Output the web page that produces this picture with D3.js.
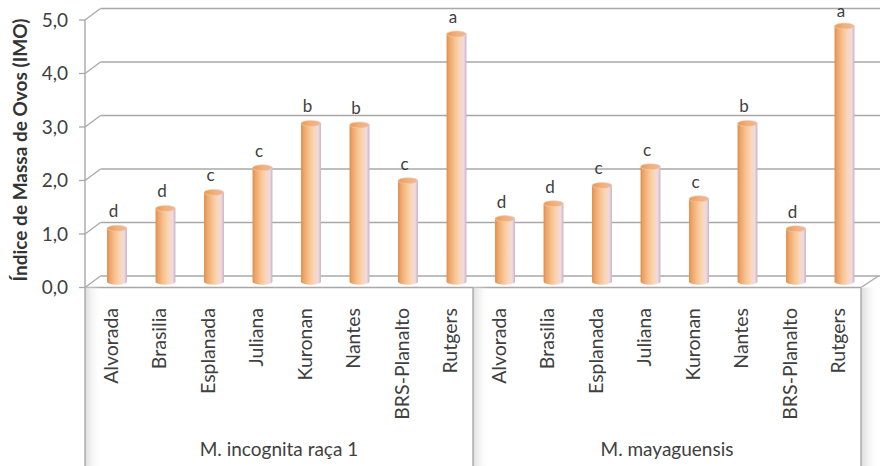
<!DOCTYPE html>
<html>
<head>
<meta charset="utf-8">
<script src="https://cdn.jsdelivr.net/npm/d3@7"></script>
<style>
  html, body { margin: 0; padding: 0; background: #ffffff; }
  svg { display: block; }
  text { font-family: Lato, "Open Sans", sans-serif; fill: #404040; }
</style>
</head>
<body>
<svg id="chart" width="880" height="466"></svg>
<script>
// Cultivars tested against each nematode species
const cultivars = ["Alvorada", "Brasilia", "Esplanada", "Juliana", "Kuronan", "Nantes", "BRS-Planalto", "Rutgers"];
const groups = ["M. incognita raça 1", "M. mayaguensis"];

// Egg mass index (IMO) per cultivar
const imoIncognita = [1.00, 1.37, 1.67, 2.13, 2.96, 2.93, 1.89, 4.63];
const imoMayaguensis = [1.18, 1.46, 1.80, 2.15, 1.55, 2.96, 0.99, 4.78];

// Statistical grouping letters
const letrasIncognita = ["d", "d", "c", "c", "b", "b", "c", "a"];
const letrasMayaguensis = ["d", "d", "c", "c", "c", "b", "d", "a"];

// Value axis ticks
const yTicks = [0, 1, 2, 3, 4, 5];
const yTitle = "Índice de Massa de Ovos (IMO)";

const rows = [];
[imoIncognita, imoMayaguensis].forEach((vals, g) => {
  const letters = g === 0 ? letrasIncognita : letrasMayaguensis;
  vals.forEach((v, i) => rows.push({ key: g + "|" + cultivars[i], group: g, name: cultivars[i], value: v, letter: letters[i] }));
});

const svg = d3.select("#chart");
const defs = svg.append("defs");

// Front plane of the 3D box and depth offset to the back wall
const front = { left: 85, right: 861, top: 20, bottom: 287.5 };
const depth = { dx: 15.5, dy: -11.5 };
const bottomEdge = 466;

const x = d3.scaleBand().domain(rows.map(d => d.key)).range([front.left, front.right]).paddingInner(0).paddingOuter(0);
const y = d3.scaleLinear().domain([0, 5]).range([front.bottom, front.top]);
const xGroup = d3.scaleBand().domain(groups).range([front.left, front.right]);

const gridColor = "#a8a8a8";

// Back wall gridlines
svg.append("g").selectAll("line").data(yTicks).join("line")
  .attr("x1", front.left + depth.dx).attr("x2", 880)
  .attr("y1", d => y(d) + depth.dy).attr("y2", d => y(d) + depth.dy)
  .attr("stroke", gridColor).attr("stroke-width", 1.4);

// Side wall gridlines (from the value axis back to the wall)
svg.append("g").selectAll("line").data(yTicks).join("line")
  .attr("x1", front.left).attr("y1", d => y(d))
  .attr("x2", front.left + depth.dx).attr("y2", d => y(d) + depth.dy)
  .attr("stroke", gridColor).attr("stroke-width", 1.3);

// Floor front edge and right side
svg.append("line").attr("x1", front.left).attr("x2", front.right)
  .attr("y1", y(0)).attr("y2", y(0)).attr("stroke", gridColor).attr("stroke-width", 1.4);
svg.append("line").attr("x1", front.right).attr("y1", y(0))
  .attr("x2", front.right + depth.dx + 2).attr("y2", y(0) + depth.dy)
  .attr("stroke", gridColor).attr("stroke-width", 1.3);

// Category box: soft shading at the left of each panel
const shade = defs.append("linearGradient").attr("id", "panelShade").attr("x1", 0).attr("x2", 1).attr("y1", 0).attr("y2", 0);
shade.append("stop").attr("offset", 0).attr("stop-color", "#dcdcdc");
shade.append("stop").attr("offset", 1).attr("stop-color", "#ffffff").attr("stop-opacity", 0);
const panelEdges = [front.left, xGroup(groups[1]), front.right];
svg.append("g").selectAll("rect").data(panelEdges).join("rect")
  .attr("x", d => d).attr("y", y(0)).attr("width", (d, i) => i === 2 ? 880 - d : 16)
  .attr("height", bottomEdge - y(0)).attr("fill", "url(#panelShade)");

// Category box dividers and value axis line
svg.append("g").selectAll("line").data(panelEdges).join("line")
  .attr("x1", d => d).attr("x2", d => d)
  .attr("y1", (d, i) => i === 0 ? y(5) : y(0)).attr("y2", bottomEdge)
  .attr("stroke", gridColor).attr("stroke-width", 1.4);

// Tick marks and labels of the value axis
svg.append("g").selectAll("line").data(yTicks).join("line")
  .attr("x1", front.left - 6).attr("x2", front.left)
  .attr("y1", d => y(d)).attr("y2", d => y(d))
  .attr("stroke", gridColor).attr("stroke-width", 1.3);
svg.append("g").selectAll("text").data(yTicks).join("text")
  .attr("x", 68).attr("y", d => y(d)).attr("dy", "0.35em")
  .attr("text-anchor", "end").style("font-size", "19px")
  .text(d => d3.format(".1f")(d).replace(".", ","));

// Cylinder shading
const body = defs.append("linearGradient").attr("id", "cylBody").attr("x1", 0).attr("x2", 1).attr("y1", 0).attr("y2", 0);
[[0, "#e08c48"], [0.12, "#eda264"], [0.42, "#f7c495"], [0.66, "#fbd6b4"], [0.86, "#efdae2"], [1, "#c9b2c6"]]
  .forEach(([o, c]) => body.append("stop").attr("offset", o).attr("stop-color", c));
const cap = defs.append("linearGradient").attr("id", "cylTop").attr("x1", 0).attr("x2", 1).attr("y1", 0).attr("y2", 0);
[[0, "#e59a5a"], [0.5, "#f2b07a"], [1, "#e6b9a8"]]
  .forEach(([o, c]) => cap.append("stop").attr("offset", o).attr("stop-color", c));

const rx = x.bandwidth() * 0.205;
const ry = 3;
const cx = d => x(d.key) + x.bandwidth() / 2 + depth.dx / 2;
const yTop = d => y(d.value) + depth.dy / 2;
const yBase = y(0) + depth.dy / 2;

const bars = svg.append("g").selectAll("g").data(rows).join("g");
bars.append("path")
  .attr("d", d => `M${cx(d) - rx},${yTop(d)} L${cx(d) - rx},${yBase} A${rx},${ry} 0 0 0 ${cx(d) + rx},${yBase} L${cx(d) + rx},${yTop(d)} Z`)
  .attr("fill", "url(#cylBody)");
bars.append("ellipse")
  .attr("cx", cx).attr("cy", yTop).attr("rx", rx).attr("ry", ry)
  .attr("fill", "url(#cylTop)").attr("stroke", "#f6cfae").attr("stroke-width", 0.6);

// Grouping letters above the bars (kept inside the top edge)
svg.append("g").selectAll("text").data(rows).join("text")
  .attr("x", d => cx(d) - 3.5).attr("y", d => Math.max(yTop(d) - ry - 8, 17))
  .attr("text-anchor", "middle").style("font-size", "17px")
  .text(d => d.letter);

// Cultivar names, rotated
svg.append("g").selectAll("text").data(rows).join("text")
  .attr("transform", d => `translate(${x(d.key) + x.bandwidth() / 2 + 1.5},308) rotate(-90)`)
  .attr("dy", "0.35em").attr("text-anchor", "end").style("font-size", "19.5px")
  .text(d => d.name);

// Nematode species
svg.append("g").selectAll("text").data(groups).join("text")
  .attr("x", d => xGroup(d) + xGroup.bandwidth() / 2).attr("y", 456)
  .attr("text-anchor", "middle").style("font-size", "19px")
  .text(d => d);

// Value axis title
svg.append("text")
  .attr("transform", "translate(20,150) rotate(-90)")
  .attr("dy", "0.35em").attr("text-anchor", "middle")
  .style("font-size", "19px").style("font-weight", "bold").style("fill", "#333333")
  .text(yTitle);
</script>
</body>
</html>
